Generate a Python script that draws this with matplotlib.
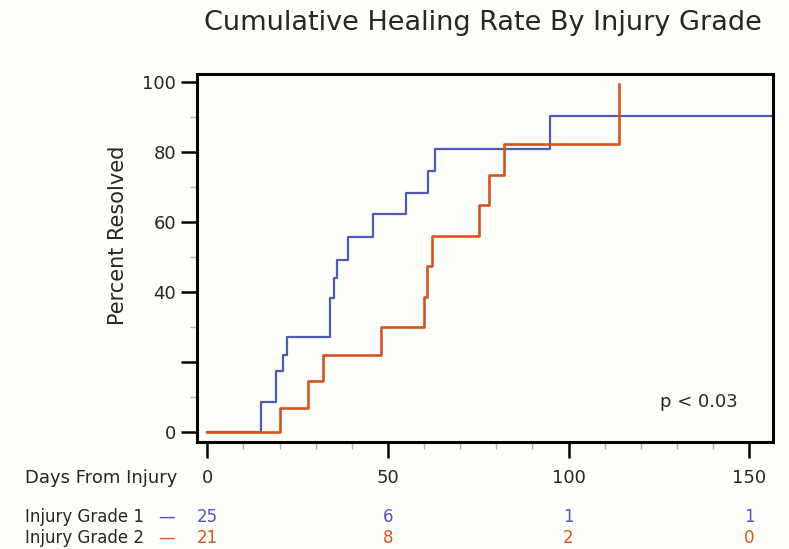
import matplotlib.pyplot as plt
from matplotlib.ticker import MultipleLocator, FixedLocator

# Kaplan-Meier style cumulative healing steps
grade1_days = [0, 15, 19, 21, 22, 34, 35, 36, 39, 46, 55, 61, 63, 95, 160]
grade1_pct = [0, 8.4, 17.4, 21.9, 27.1, 38.1, 43.8, 49.2, 55.7, 62.1, 68.1, 74.5, 80.8, 90.2, 90.2]

grade2_days = [0, 20, 28, 32, 48, 60, 60.7, 62.2, 75.3, 78, 82, 114]
grade2_pct = [0, 6.7, 14.5, 21.9, 30.0, 38.6, 47.3, 56.0, 64.8, 73.3, 82.1, 99.3]

# numbers at risk
risk_days = [0, 50, 100, 150]
risk_g1 = [25, 6, 1, 1]
risk_g2 = [21, 8, 2, 0]

ytick_vals = [0, 20, 40, 60, 80, 100]
ytick_labels = ['0', '', '40', '60', '80', '100']

blue = '#4f5ab4'
orange = '#d2561e'
txt = '#262626'
bg = '#fdfdf9'

plt.rcParams['font.family'] = ['DejaVu Sans']

fig = plt.figure(figsize=(7.89, 5.49), dpi=100, facecolor=bg)
ax = fig.add_axes([0.2497, 0.1949, 0.73, 0.6703], facecolor=bg)

ax.step(grade1_days, grade1_pct, where='post', color=blue, linewidth=1.6)
ax.step(grade2_days, grade2_pct, where='post', color=orange, linewidth=1.9)

ax.set_xlim(-2.85, 156.6)
ax.set_ylim(-2.9, 102.2)

# ticks
ax.xaxis.set_major_locator(FixedLocator(risk_days))
ax.xaxis.set_minor_locator(MultipleLocator(10))
ax.set_xticklabels([str(d) for d in risk_days])
ax.yaxis.set_major_locator(FixedLocator(ytick_vals))
ax.yaxis.set_minor_locator(MultipleLocator(10))
ax.set_yticklabels(ytick_labels)
ax.tick_params(which='major', direction='out', length=11.5, width=1.8, color='black',
               labelsize=13, labelcolor=txt)
ax.tick_params(axis='x', which='major', pad=8)
ax.tick_params(which='minor', direction='out', length=5, width=1, color='#b0b0b0')

for s in ax.spines.values():
    s.set_linewidth(2.2)
    s.set_color('black')

fig.text(0.612, 0.958, 'Cumulative Healing Rate By Injury Grade', ha='center', va='center',
         fontsize=19.5, color=txt)
fig.text(0.150, 0.572, 'Percent Resolved', rotation=90, ha='center', va='center',
         fontsize=15, color=txt)
ax.text(0.938, 0.11, 'p < 0.03', transform=ax.transAxes, ha='right', va='center',
        fontsize=13, color=txt)

# axis title on left of tick labels
fig.text(0.032, 0.129, 'Days From Injury', ha='left', va='center', fontsize=13, color=txt)

# number at risk table
row_y = [0.058, 0.020]
for yy, name, col, vals in [(row_y[0], 'Injury Grade 1', blue, risk_g1),
                            (row_y[1], 'Injury Grade 2', orange, risk_g2)]:
    fig.text(0.032, yy, name, ha='left', va='center', fontsize=12, color=txt)
    fig.text(0.200, yy, '\u2014', ha='left', va='center', fontsize=12, color=col)
    for d, v in zip(risk_days, vals):
        xf = (ax.transData.transform((d, 0))[0]) / fig.bbox.width
        fig.text(xf, yy, str(v), ha='center', va='center', fontsize=12, color=col)

fig.savefig('out.png', dpi=100, facecolor=bg)
